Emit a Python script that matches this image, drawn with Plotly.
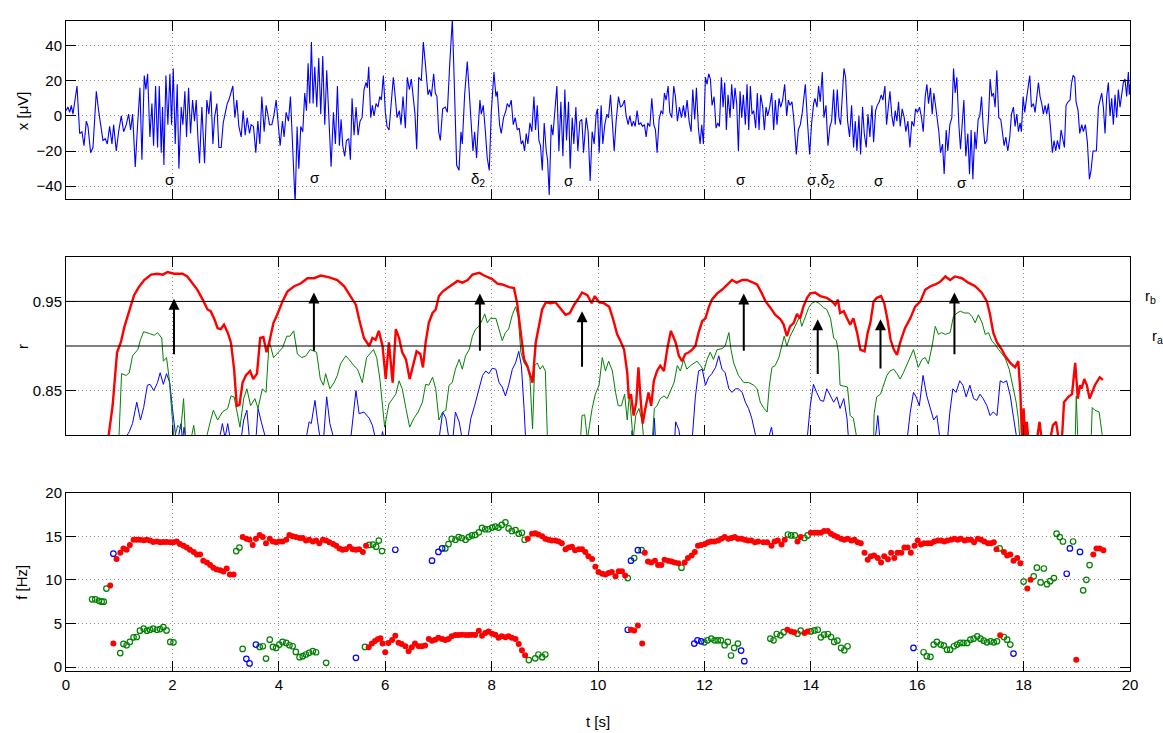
import plotly.graph_objects as go

# ---------------- EEG trace x(t) [uV] ----------------
eeg_t = [
    0.000, 0.038, 0.069, 0.100, 0.131, 0.163, 0.207, 0.257, 0.300, 0.338,
    0.382, 0.413, 0.463, 0.507, 0.570, 0.613, 0.645, 0.695, 0.739, 0.776,
    0.820, 0.864, 0.895, 0.945, 0.989, 1.039, 1.083, 1.133, 1.177, 1.214,
    1.252, 1.302, 1.346, 1.390, 1.427, 1.471, 1.502, 1.534, 1.577, 1.615,
    1.646, 1.684, 1.721, 1.753, 1.790, 1.815, 1.840, 1.878, 1.915, 1.953,
    1.984, 2.016, 2.053, 2.091, 2.122, 2.166, 2.197, 2.235, 2.266, 2.304,
    2.341, 2.379, 2.416, 2.448, 2.479, 2.510, 2.554, 2.604, 2.648, 2.685,
    2.723, 2.761, 2.792, 2.836, 2.873, 2.917, 2.955, 2.992, 3.030, 3.061,
    3.092, 3.136, 3.174, 3.211, 3.249, 3.293, 3.330, 3.368, 3.405, 3.449,
    3.480, 3.524, 3.568, 3.606, 3.643, 3.681, 3.725, 3.762, 3.793, 3.825,
    3.869, 3.906, 3.950, 3.987, 4.025, 4.069, 4.100, 4.138, 4.182, 4.219,
    4.263, 4.307, 4.344, 4.376, 4.413, 4.451, 4.488, 4.520, 4.551, 4.582,
    4.613, 4.645, 4.676, 4.714, 4.751, 4.789, 4.826, 4.864, 4.901, 4.939,
    4.983, 5.027, 5.064, 5.102, 5.139, 5.171, 5.202, 5.239, 5.271, 5.315,
    5.346, 5.377, 5.415, 5.452, 5.490, 5.527, 5.565, 5.602, 5.640, 5.665,
    5.690, 5.728, 5.759, 5.790, 5.828, 5.865, 5.897, 5.928, 5.966, 6.003,
    6.034, 6.072, 6.110, 6.153, 6.185, 6.222, 6.266, 6.297, 6.335, 6.379,
    6.416, 6.454, 6.491, 6.529, 6.560, 6.592, 6.629, 6.679, 6.717, 6.754,
    6.804, 6.836, 6.867, 6.911, 6.942, 6.973, 7.005, 7.036, 7.080, 7.130,
    7.168, 7.212, 7.262, 7.305, 7.343, 7.387, 7.424, 7.449, 7.493, 7.543,
    7.581, 7.618, 7.649, 7.681, 7.718, 7.743, 7.781, 7.806, 7.843, 7.881,
    7.918, 7.956, 7.994, 8.044, 8.081, 8.106, 8.150, 8.181, 8.225, 8.269,
    8.294, 8.332, 8.369, 8.407, 8.444, 8.482, 8.519, 8.557, 8.588, 8.620,
    8.651, 8.682, 8.720, 8.757, 8.795, 8.826, 8.858, 8.889, 8.920, 8.952,
    8.989, 9.027, 9.052, 9.083, 9.121, 9.152, 9.190, 9.227, 9.265, 9.302,
    9.340, 9.377, 9.408, 9.446, 9.477, 9.515, 9.546, 9.584, 9.621, 9.659,
    9.696, 9.728, 9.778, 9.815, 9.853, 9.890, 9.928, 9.965, 9.990, 10.022,
    10.059, 10.090, 10.128, 10.166, 10.197, 10.235, 10.266, 10.304, 10.341, 10.385,
    10.423, 10.460, 10.498, 10.529, 10.567, 10.598, 10.636, 10.667, 10.698, 10.736,
    10.767, 10.805, 10.836, 10.873, 10.905, 10.936, 10.974, 11.011, 11.049, 11.080,
    11.111, 11.149, 11.187, 11.218, 11.249, 11.280, 11.318, 11.349, 11.387, 11.424,
    11.455, 11.493, 11.531, 11.568, 11.606, 11.637, 11.675, 11.712, 11.750, 11.781,
    11.818, 11.850, 11.887, 11.919, 11.950, 11.981, 12.019, 12.050, 12.081, 12.113,
    12.144, 12.182, 12.219, 12.250, 12.282, 12.319, 12.351, 12.382, 12.413, 12.444,
    12.482, 12.513, 12.545, 12.576, 12.607, 12.639, 12.670, 12.701, 12.732, 12.770,
    12.801, 12.833, 12.864, 12.895, 12.927, 12.964, 12.995, 13.027, 13.058, 13.096,
    13.127, 13.158, 13.190, 13.227, 13.265, 13.302, 13.333, 13.365, 13.402, 13.434,
    13.471, 13.509, 13.546, 13.578, 13.609, 13.646, 13.678, 13.728, 13.765, 13.803,
    13.840, 13.865, 13.897, 13.941, 13.978, 14.016, 14.053, 14.078, 14.116, 14.147,
    14.178, 14.216, 14.247, 14.285, 14.322, 14.360, 14.391, 14.429, 14.460, 14.498,
    14.529, 14.560, 14.598, 14.623, 14.654, 14.692, 14.729, 14.767, 14.804, 14.836,
    14.867, 14.905, 14.936, 14.973, 15.005, 15.042, 15.074, 15.111, 15.149, 15.180,
    15.218, 15.249, 15.287, 15.324, 15.355, 15.393, 15.424, 15.455, 15.487, 15.524,
    15.556, 15.587, 15.618, 15.649, 15.681, 15.718, 15.756, 15.787, 15.825, 15.862,
    15.900, 15.937, 15.969, 16.006, 16.044, 16.081, 16.113, 16.150, 16.182, 16.213,
    16.250, 16.282, 16.313, 16.344, 16.376, 16.407, 16.438, 16.476, 16.507, 16.545,
    16.576, 16.614, 16.651, 16.683, 16.714, 16.745, 16.783, 16.814, 16.845, 16.877,
    16.914, 16.952, 16.983, 17.014, 17.046, 17.083, 17.108, 17.146, 17.177, 17.209,
    17.240, 17.271, 17.309, 17.340, 17.371, 17.402, 17.434, 17.465, 17.496, 17.534,
    17.571, 17.603, 17.634, 17.665, 17.703, 17.740, 17.772, 17.809, 17.840, 17.872,
    17.903, 17.934, 17.959, 17.991, 18.022, 18.060, 18.091, 18.116, 18.147, 18.185,
    18.216, 18.247, 18.279, 18.310, 18.341, 18.372, 18.404, 18.435, 18.466, 18.504,
    18.541, 18.573, 18.604, 18.635, 18.673, 18.704, 18.736, 18.767, 18.798, 18.836,
    18.873, 18.898, 18.930, 18.961, 18.986, 19.024, 19.055, 19.093, 19.124, 19.161,
    19.199, 19.237, 19.268, 19.305, 19.337, 19.368, 19.406, 19.437, 19.468, 19.499,
    19.531, 19.562, 19.593, 19.624, 19.656, 19.687, 19.718, 19.750, 19.781, 19.812,
    19.844, 19.875, 19.906, 19.937, 19.969, 19.987, 20.000,
]
eeg_uv = [
    3, 5, 2, 6, 1, 7, 17, -10, -9, -17,
    -3, -6, -21, -18, 14, 3, -3, -14, -13, -16,
    -6, -16, -5, -20, -9, 0, -9, -5, 1, -8,
    1, -29, -5, 16, -25, 23, 15, 24, -12, 7,
    -17, 17, -18, 17, -21, 5, -28, 23, -5, 24,
    -5, 27, -16, 18, -30, 5, -5, 14, -12, 16,
    -10, 9, -3, 9, -12, -27, 5, -27, 9, 1,
    14, -16, -1, 7, -18, -18, -4, 2, 7, 9,
    13, 17, -1, 9, -6, -12, 3, -11, -1, -10,
    -5, -6, -21, -3, -16, 11, -9, 6, 1, -5,
    -5, 0, 9, -6, -17, -3, -12, 2, -3, 11,
    -16, -50, -6, -30, -6, -9, 13, 3, 30, 7,
    42, 7, 28, 5, 33, 1, 34, -5, 26, 3,
    -29, 2, -16, 17, -17, -2, -17, -23, -14, -13,
    -25, 10, -11, 5, -11, -3, -1, 15, 19, 16,
    28, -1, 6, 0, 7, 5, 11, 9, 23, 2,
    -6, -8, 7, 22, 12, -1, 3, -5, 11, -7,
    22, 15, 21, 11, 1, -19, 22, 20, 42, 30,
    12, 15, 11, 24, 13, 11, -9, -14, 4, 5,
    2, 29, 55, 12, -28, -31, -9, -16, 12, 31,
    10, -3, -20, -9, -24, -9, 9, 1, 6, -8,
    -24, -31, 2, 25, 11, 14, -5, -10, -1, 3,
    7, 5, 9, -5, -1, -8, -7, -16, -14, -20,
    -10, -16, -4, -9, 11, -8, 6, -14, -17, -31,
    -4, -20, -25, -45, -5, -11, 1, 17, -20, 8,
    -23, 15, -14, 8, -30, -1, -16, 5, -20, -3,
    -2, -21, -1, -9, -37, -9, -16, 1, 4, -21,
    6, -16, -5, 1, -1, 12, -2, -20, -3, 11,
    5, 6, 9, 0, -5, 0, -6, -3, -6, 3,
    -5, -4, -6, -5, -12, -4, -6, 10, -5, -8,
    -21, -2, 3, 1, 13, 9, 17, 2, -1, 17,
    11, -3, 5, -1, 6, -1, 9, -3, -9, 15,
    -2, 16, -7, -16, -5, -16, 22, 18, 24, 21,
    6, 11, -7, -4, -6, 22, 5, 19, -8, 12,
    -1, 18, 4, 16, 7, -20, 14, -1, 12, -5,
    18, -8, 17, 1, 3, -7, 13, -8, 12, 5,
    -8, 5, 0, 5, 13, -8, 9, -5, 10, 5,
    9, 18, 0, 9, 6, 8, -1, -22, -8, -5,
    2, 11, 18, -5, -22, -4, 7, 10, 5, 17,
    8, 25, -1, 6, -17, -6, -3, 15, -5, 15,
    -1, -5, 12, 27, 22, -3, -12, 6, -18, -3,
    -20, 0, -22, 5, -10, -18, 1, -12, 6, -15,
    3, 6, 8, 12, 9, 17, -5, 6, 14, 0,
    -6, 3, -3, 8, -6, 4, -1, -9, -3, -18,
    -3, -6, 4, 2, 5, -1, -9, 11, 18, 7,
    16, 1, 13, 6, -1, -9, -21, -16, -33, -8,
    -20, -5, -1, 27, 13, 22, -5, -19, -5, 9,
    -23, -10, -33, -8, -36, -9, -19, -2, 0, 11,
    -6, -16, -14, -1, 21, 11, 13, 5, 26, -1,
    -2, -11, -17, -12, -20, -12, 1, 5, -6, 1,
    -9, -4, -9, 11, 2, 11, 18, 23, 5, 7,
    2, 11, 19, 11, 7, 1, 6, 1, 7, -6,
    -21, -14, -20, -14, -19, -8, -13, -18, 6, 8,
    9, 18, 23, 22, 8, 3, -10, -5, -9, -5,
    -15, -36, -31, -20, -20, -20, 5, 9, 13, 5,
    -10, 11, 19, 0, 10, -5, 12, -1, 15, 5,
    12, 19, 21, 11, 25, 12, 18,
]

# Event labels written under the EEG trace
band_t = [1.96, 4.68, 7.74, 9.45, 12.68, 14.20, 15.29, 16.85]
band_uv = [-36, -35, -36, -37, -36, -37, -36.5, -38]
band_text = ["σ", "σ", "δ<sub>2</sub>", "σ", "σ", "σ,δ<sub>2</sub>", "σ", "σ"]

# ---------------- correlation r(t) ----------------
r_red_t = [
    0.78, 0.876, 0.96, 1.03, 1.10, 1.19, 1.28, 1.38, 1.47, 1.60,
    1.72, 1.82, 1.91, 2.03, 2.19, 2.28, 2.38, 2.47, 2.57, 2.66,
    2.72, 2.79, 2.85, 2.91, 2.97, 3.04, 3.10, 3.16, 3.21, 3.26,
    3.32, 3.38, 3.46, 3.52, 3.59, 3.65, 3.71, 3.77, 3.82, 3.90,
    3.97, 4.07, 4.16, 4.29, 4.41, 4.54, 4.66, 4.79, 4.95, 5.10,
    5.23, 5.35, 5.45, 5.51, 5.60, 5.70, 5.76, 5.82, 5.88, 5.95,
    6.01, 6.07, 6.14, 6.20, 6.26, 6.32, 6.39, 6.46, 6.54, 6.59,
    6.66, 6.71, 6.76, 6.82, 6.89, 6.95, 7.01, 7.08, 7.17, 7.26,
    7.36, 7.45, 7.55, 7.64, 7.77, 7.86, 8.01, 8.11, 8.20, 8.33,
    8.42, 8.48, 8.55, 8.61, 8.67, 8.77, 8.83, 8.89, 8.95, 9.02,
    9.11, 9.20, 9.30, 9.39, 9.47, 9.55, 9.64, 9.70, 9.80, 9.88,
    9.94, 10.02, 10.11, 10.21, 10.28, 10.36, 10.42, 10.49, 10.55, 10.58,
    10.62, 10.67, 10.72, 10.76, 10.80, 10.84, 10.89, 10.95, 11.00, 11.05,
    11.11, 11.17, 11.24, 11.30, 11.37, 11.46, 11.52, 11.58, 11.64, 11.71,
    11.77, 11.83, 11.89, 11.96, 12.02, 12.08, 12.14, 12.24, 12.33, 12.43,
    12.52, 12.61, 12.71, 12.80, 12.89, 12.99, 13.08, 13.15, 13.24, 13.33,
    13.43, 13.49, 13.55, 13.61, 13.68, 13.74, 13.80, 13.86, 13.93, 13.99,
    14.08, 14.18, 14.30, 14.40, 14.46, 14.51, 14.55, 14.62, 14.68, 14.74,
    14.80, 14.87, 14.93, 15.01, 15.07, 15.12, 15.18, 15.24, 15.32, 15.38,
    15.44, 15.50, 15.56, 15.62, 15.68, 15.77, 15.87, 15.96, 16.06, 16.15,
    16.25, 16.34, 16.43, 16.53, 16.62, 16.71, 16.84, 16.96, 17.09, 17.21,
    17.31, 17.37, 17.43, 17.50, 17.59, 17.65, 17.75, 17.84, 17.90, 17.94,
    17.97, 18.00, 18.03, 18.06, 18.09, 18.25, 18.30, 18.34, 18.50, 18.55,
    18.61, 18.66, 18.72, 18.76, 18.84, 18.91, 18.97, 19.02, 19.06, 19.09,
    19.14, 19.19, 19.24, 19.28, 19.34, 19.43, 19.49,
]
r_red = [
    0.79, 0.833, 0.893, 0.904, 0.922, 0.941, 0.957, 0.967, 0.974, 0.980,
    0.981, 0.980, 0.983, 0.981, 0.981, 0.978, 0.970, 0.963, 0.952, 0.941,
    0.939, 0.930, 0.920, 0.919, 0.924, 0.915, 0.904, 0.874, 0.833, 0.834,
    0.859, 0.867, 0.872, 0.863, 0.869, 0.909, 0.910, 0.893, 0.904, 0.926,
    0.935, 0.950, 0.961, 0.967, 0.970, 0.976, 0.976, 0.979, 0.977, 0.974,
    0.967, 0.956, 0.946, 0.930, 0.909, 0.900, 0.909, 0.907, 0.917, 0.900,
    0.863, 0.904, 0.859, 0.919, 0.909, 0.893, 0.885, 0.863, 0.881, 0.894,
    0.891, 0.876, 0.904, 0.926, 0.937, 0.941, 0.956, 0.961, 0.965, 0.969,
    0.973, 0.971, 0.974, 0.980, 0.982, 0.979, 0.975, 0.970, 0.969, 0.966,
    0.965, 0.948, 0.915, 0.885, 0.878, 0.859, 0.904, 0.924, 0.941, 0.949,
    0.948, 0.949, 0.941, 0.935, 0.937, 0.946, 0.954, 0.960, 0.957, 0.948,
    0.956, 0.949, 0.948, 0.944, 0.931, 0.913, 0.906, 0.896, 0.870, 0.841,
    0.846, 0.822, 0.837, 0.876, 0.841, 0.813, 0.830, 0.848, 0.833, 0.861,
    0.872, 0.878, 0.872, 0.896, 0.917, 0.904, 0.889, 0.883, 0.891, 0.893,
    0.896, 0.900, 0.915, 0.928, 0.931, 0.943, 0.952, 0.959, 0.963, 0.969,
    0.974, 0.971, 0.974, 0.974, 0.972, 0.969, 0.959, 0.950, 0.943, 0.935,
    0.930, 0.924, 0.911, 0.922, 0.926, 0.936, 0.931, 0.944, 0.954, 0.959,
    0.960, 0.956, 0.954, 0.950, 0.946, 0.952, 0.937, 0.939, 0.931, 0.924,
    0.931, 0.915, 0.896, 0.894, 0.915, 0.926, 0.950, 0.954, 0.956, 0.948,
    0.930, 0.907, 0.896, 0.890, 0.904, 0.920, 0.931, 0.944, 0.950, 0.963,
    0.967, 0.969, 0.972, 0.978, 0.974, 0.978, 0.976, 0.971, 0.967, 0.960,
    0.950, 0.935, 0.915, 0.904, 0.896, 0.889, 0.881, 0.876, 0.883, 0.848,
    0.795, 0.830, 0.795, 0.815, 0.795, 0.795, 0.815, 0.795, 0.795, 0.811,
    0.815, 0.795, 0.795, 0.837, 0.843, 0.846, 0.881, 0.841, 0.856, 0.852,
    0.863, 0.856, 0.841, 0.848, 0.856, 0.865, 0.862,
]

r_green_t = [
    0.99, 1.045, 1.13, 1.19, 1.25, 1.35, 1.40, 1.46, 1.57, 1.66,
    1.72, 1.80, 1.83, 1.89, 1.94, 2.00, 2.03, 2.10, 2.16, 2.21,
    2.25, 2.35, 2.40, 2.44, 2.63, 2.72, 2.77, 2.85, 2.94, 3.04,
    3.10, 3.16, 3.22, 3.27, 3.34, 3.40, 3.47, 3.55, 3.61, 3.69,
    3.76, 3.82, 3.90, 3.99, 4.07, 4.15, 4.21, 4.28, 4.35, 4.43,
    4.51, 4.59, 4.66, 4.71, 4.78, 4.84, 4.88, 4.96, 5.04, 5.10,
    5.16, 5.26, 5.32, 5.41, 5.48, 5.57, 5.65, 5.73, 5.78, 5.84,
    5.90, 5.95, 5.99, 6.07, 6.14, 6.20, 6.26, 6.32, 6.39, 6.46,
    6.54, 6.62, 6.70, 6.76, 6.82, 6.89, 6.95, 7.01, 7.08, 7.14,
    7.20, 7.26, 7.32, 7.39, 7.45, 7.51, 7.58, 7.64, 7.70, 7.76,
    7.83, 7.87, 7.92, 7.98, 8.08, 8.14, 8.20, 8.26, 8.32, 8.39,
    8.45, 8.50, 8.55, 8.61, 8.67, 8.72, 8.77, 8.81, 8.86, 8.91,
    8.96, 9.01, 9.05, 9.67, 9.70, 9.75, 9.80, 9.84, 9.89, 9.95,
    10.02, 10.08, 10.14, 10.20, 10.27, 10.33, 10.38, 10.44, 10.50, 10.55,
    10.59, 10.66, 10.71, 10.77, 10.83, 10.86, 11.02, 11.06, 11.11, 11.17,
    11.24, 11.30, 11.36, 11.43, 11.49, 11.55, 11.61, 11.67, 11.74, 11.80,
    11.86, 11.93, 11.99, 12.05, 12.11, 12.17, 12.24, 12.33, 12.39, 12.46,
    12.50, 12.55, 12.64, 12.74, 12.83, 12.93, 12.99, 13.05, 13.12, 13.18,
    13.22, 13.27, 13.33, 13.40, 13.46, 13.50, 13.55, 13.61, 13.68, 13.74,
    13.79, 13.83, 13.90, 13.96, 14.02, 14.09, 14.15, 14.24, 14.30, 14.37,
    14.43, 14.48, 14.52, 14.55, 14.62, 14.69, 14.74, 14.80, 14.87, 15.18,
    15.19, 15.24, 15.31, 15.37, 15.43, 15.49, 15.56, 15.62, 15.68, 15.74,
    15.81, 15.87, 15.93, 15.98, 16.02, 16.09, 16.15, 16.21, 16.28, 16.34,
    16.40, 16.46, 16.53, 16.62, 16.68, 16.75, 16.81, 16.89, 16.97, 17.03,
    17.09, 17.15, 17.22, 17.28, 17.34, 17.40, 17.46, 17.53, 17.59, 17.65,
    17.73, 17.81, 17.86, 17.90, 17.93, 18.97, 18.99, 19.02, 19.27, 19.29,
    19.34, 19.42, 19.49,
]
r_green = [
    0.79, 0.869, 0.867, 0.870, 0.889, 0.896, 0.907, 0.916, 0.914, 0.912,
    0.915, 0.909, 0.883, 0.887, 0.863, 0.813, 0.795, 0.811, 0.807, 0.841,
    0.795, 0.795, 0.811, 0.795, 0.795, 0.817, 0.828, 0.817, 0.826, 0.830,
    0.844, 0.843, 0.822, 0.809, 0.841, 0.852, 0.833, 0.841, 0.830, 0.852,
    0.848, 0.906, 0.887, 0.893, 0.898, 0.911, 0.911, 0.917, 0.891, 0.887,
    0.889, 0.896, 0.894, 0.893, 0.863, 0.856, 0.869, 0.852, 0.859, 0.867,
    0.880, 0.889, 0.885, 0.878, 0.874, 0.859, 0.887, 0.893, 0.896, 0.887,
    0.863, 0.833, 0.809, 0.835, 0.841, 0.846, 0.861, 0.852, 0.830, 0.809,
    0.819, 0.826, 0.837, 0.857, 0.856, 0.865, 0.852, 0.817, 0.826, 0.828,
    0.856, 0.859, 0.874, 0.885, 0.874, 0.889, 0.896, 0.911, 0.919, 0.922,
    0.930, 0.936, 0.926, 0.931, 0.931, 0.917, 0.906, 0.915, 0.919, 0.935,
    0.944, 0.933, 0.893, 0.881, 0.876, 0.865, 0.807, 0.878, 0.881, 0.874,
    0.878, 0.872, 0.795, 0.795, 0.822, 0.823, 0.795, 0.811, 0.830, 0.846,
    0.856, 0.887, 0.872, 0.883, 0.872, 0.848, 0.833, 0.833, 0.846, 0.817,
    0.846, 0.795, 0.822, 0.830, 0.815, 0.795, 0.795, 0.830, 0.833, 0.841,
    0.844, 0.841, 0.850, 0.859, 0.878, 0.872, 0.885, 0.874, 0.878, 0.881,
    0.883, 0.878, 0.872, 0.885, 0.893, 0.885, 0.896, 0.897, 0.900, 0.915,
    0.896, 0.881, 0.867, 0.859, 0.859, 0.856, 0.852, 0.837, 0.830, 0.826,
    0.855, 0.876, 0.878, 0.887, 0.900, 0.911, 0.900, 0.911, 0.919, 0.926,
    0.933, 0.922, 0.933, 0.943, 0.948, 0.950, 0.948, 0.943, 0.941, 0.931,
    0.909, 0.906, 0.893, 0.856, 0.855, 0.854, 0.822, 0.819, 0.795, 0.795,
    0.824, 0.843, 0.846, 0.856, 0.867, 0.872, 0.874, 0.869, 0.863, 0.870,
    0.880, 0.887, 0.896, 0.885, 0.876, 0.885, 0.887, 0.880, 0.900, 0.922,
    0.913, 0.915, 0.913, 0.915, 0.933, 0.937, 0.939, 0.937, 0.937, 0.933,
    0.926, 0.935, 0.926, 0.913, 0.915, 0.906, 0.902, 0.896, 0.891, 0.887,
    0.874, 0.852, 0.837, 0.819, 0.795, 0.795, 0.844, 0.795, 0.795, 0.831,
    0.828, 0.826, 0.795,
]

r_blue_t = [
    1.10, 1.19, 1.25, 1.33, 1.40, 1.46, 1.53, 1.58, 1.65, 1.72,
    1.77, 1.83, 1.89, 1.95, 2.00, 2.07, 2.12, 2.16, 2.19, 2.22,
    2.25, 2.88, 2.94, 2.99, 3.04, 3.09, 3.29, 3.34, 3.40, 3.45,
    3.57, 3.61, 3.67, 3.76, 4.51, 4.57, 4.61, 4.68, 4.73, 4.78,
    4.84, 4.90, 4.96, 5.04, 5.35, 5.45, 5.51, 5.60, 5.70, 5.76,
    5.82, 5.92, 5.95, 5.98, 7.01, 7.08, 7.14, 7.20, 7.27, 7.32,
    7.39, 7.45, 7.55, 7.61, 7.68, 7.76, 7.83, 7.89, 7.95, 8.01,
    8.08, 8.14, 8.20, 8.26, 8.32, 8.39, 8.45, 8.51, 8.56, 8.61,
    8.64, 10.63, 10.64, 10.66, 11.04, 11.06, 11.08, 11.44, 11.46, 11.52,
    11.55, 11.77, 11.83, 11.89, 11.96, 12.02, 12.08, 12.14, 12.21, 12.27,
    12.33, 12.39, 12.46, 12.52, 12.58, 12.64, 12.71, 12.77, 12.83, 12.89,
    12.98, 13.20, 13.26, 13.30, 13.93, 13.99, 14.05, 14.11, 14.18, 14.24,
    14.30, 14.37, 14.43, 14.49, 14.55, 14.62, 14.68, 14.71, 15.21, 15.26,
    15.30, 15.81, 15.87, 15.93, 15.98, 16.04, 16.11, 16.18, 16.25, 16.31,
    16.37, 16.43, 16.57, 16.61, 16.67, 16.73, 16.80, 16.86, 16.92, 16.99,
    17.06, 17.12, 17.18, 17.24, 17.31, 17.37, 17.43, 17.50, 17.56, 17.62,
    17.68, 17.75, 17.81, 17.87, 17.90,
]
r_blue = [
    0.795, 0.804, 0.813, 0.837, 0.817, 0.831, 0.856, 0.857, 0.850, 0.859,
    0.870, 0.857, 0.869, 0.859, 0.830, 0.795, 0.800, 0.813, 0.795, 0.809,
    0.795, 0.795, 0.813, 0.797, 0.813, 0.795, 0.795, 0.817, 0.828, 0.795,
    0.795, 0.830, 0.815, 0.795, 0.795, 0.815, 0.813, 0.839, 0.815, 0.795,
    0.795, 0.843, 0.813, 0.795, 0.795, 0.850, 0.824, 0.826, 0.819, 0.811,
    0.795, 0.795, 0.804, 0.795, 0.795, 0.826, 0.819, 0.795, 0.795, 0.826,
    0.815, 0.795, 0.795, 0.819, 0.833, 0.852, 0.867, 0.872, 0.869, 0.875,
    0.874, 0.859, 0.854, 0.844, 0.856, 0.874, 0.881, 0.894, 0.878, 0.830,
    0.795, 0.795, 0.805, 0.795, 0.795, 0.819, 0.795, 0.795, 0.815, 0.806,
    0.795, 0.795, 0.843, 0.872, 0.874, 0.856, 0.865, 0.869, 0.876, 0.889,
    0.874, 0.870, 0.852, 0.848, 0.852, 0.852, 0.848, 0.837, 0.830, 0.819,
    0.795, 0.795, 0.809, 0.795, 0.795, 0.833, 0.857, 0.848, 0.839, 0.838,
    0.852, 0.844, 0.837, 0.843, 0.830, 0.841, 0.819, 0.795, 0.795, 0.822,
    0.795, 0.795, 0.826, 0.848, 0.843, 0.833, 0.867, 0.844, 0.830, 0.817,
    0.822, 0.795, 0.795, 0.824, 0.852, 0.848, 0.861, 0.856, 0.843, 0.856,
    0.841, 0.839, 0.846, 0.841, 0.833, 0.822, 0.826, 0.822, 0.861, 0.859,
    0.861, 0.844, 0.820, 0.797, 0.795,
]

# thresholds r_a, r_b and detected events (arrow from / to)
r_a = 0.90
r_b = 0.95
arrow_t = [2.03, 4.66, 7.78, 9.70, 12.74, 14.13, 15.31, 16.70]
arrow_from = [0.889, 0.893, 0.893, 0.875, 0.893, 0.867, 0.873, 0.889]
arrow_to = [0.953, 0.960, 0.959, 0.939, 0.959, 0.930, 0.930, 0.960]

# ---------------- frequency estimates f(t) [Hz] ----------------
f_red_t = [
    0.83, 0.89, 0.95, 1.02, 1.08, 1.14, 1.20, 1.27, 1.33, 1.39,
    1.46, 1.52, 1.58, 1.64, 1.71, 1.77, 1.83, 1.89, 1.96, 2.02,
    2.08, 2.14, 2.21, 2.27, 2.33, 2.40, 2.46, 2.52, 2.58, 2.65,
    2.71, 2.77, 2.83, 2.90, 2.96, 3.02, 3.08, 3.15, 3.32, 3.39,
    3.45, 3.51, 3.57, 3.64, 3.70, 3.76, 3.83, 3.89, 3.95, 4.01,
    4.07, 4.14, 4.20, 4.26, 4.32, 4.39, 4.45, 4.51, 4.57, 4.64,
    4.70, 4.76, 4.83, 4.89, 4.95, 5.02, 5.08, 5.14, 5.20, 5.26,
    5.33, 5.39, 5.45, 5.51, 5.58, 5.64, 5.69, 5.75, 5.81, 5.86,
    5.91, 5.95, 6.00, 6.06, 6.13, 6.19, 6.25, 6.31, 6.38, 6.44,
    6.50, 6.56, 6.63, 6.69, 6.75, 6.82, 6.88, 6.94, 7.00, 7.07,
    7.13, 7.19, 7.25, 7.32, 7.38, 7.44, 7.51, 7.57, 7.63, 7.69,
    7.76, 7.82, 7.88, 7.94, 8.01, 8.07, 8.13, 8.19, 8.26, 8.32,
    8.38, 8.45, 8.51, 8.57, 8.63, 8.68, 8.76, 8.82, 8.88, 8.95,
    9.01, 9.07, 9.13, 9.20, 9.26, 9.32, 9.39, 9.45, 9.51, 9.57,
    9.64, 9.70, 9.76, 9.82, 9.89, 9.95, 10.01, 10.08, 10.14, 10.20,
    10.26, 10.33, 10.39, 10.45, 10.51, 10.62, 10.68, 10.75, 10.83, 10.88,
    10.94, 11.00, 11.07, 11.13, 11.19, 11.25, 11.32, 11.38, 11.44, 11.51,
    11.63, 11.69, 11.76, 11.82, 11.88, 11.94, 12.01, 12.07, 12.13, 12.19,
    12.26, 12.32, 12.38, 12.45, 12.51, 12.57, 12.63, 12.70, 12.76, 12.82,
    12.88, 12.95, 13.01, 13.11, 13.18, 13.26, 13.32, 13.38, 13.45, 13.51,
    13.75, 13.81, 14.00, 14.07, 14.13, 14.19, 14.25, 14.32, 14.38, 14.44,
    14.50, 14.57, 14.63, 14.69, 14.76, 14.82, 14.88, 14.94, 15.01, 15.07,
    15.13, 15.19, 15.26, 15.32, 15.38, 15.45, 15.51, 15.57, 15.63, 15.70,
    15.76, 15.82, 15.88, 15.95, 16.01, 16.07, 16.13, 16.20, 16.26, 16.32,
    16.39, 16.45, 16.51, 16.57, 16.64, 16.70, 16.76, 16.82, 16.89, 16.95,
    17.01, 17.07, 17.14, 17.20, 17.26, 17.33, 17.39, 17.44, 17.49, 17.63,
    17.69, 17.75, 17.81, 17.88, 17.94, 18.07, 18.13, 19.31, 19.37, 19.43,
    19.50, 13.56, 13.63, 13.69, 13.88, 13.94, 17.56, 18.99,
]
f_red = [
    9.36, 2.69, 12.4, 13.1, 13.6, 13.45, 14.0, 14.6, 14.6, 14.6,
    14.55, 14.6, 14.5, 14.35, 14.4, 14.3, 14.35, 14.35, 14.3, 14.3,
    14.4, 14.1, 13.9, 13.7, 13.45, 13.2, 12.9, 12.9, 12.2, 12.0,
    11.7, 11.4, 11.2, 11.1, 10.95, 11.3, 10.6, 10.6, 14.9, 14.7,
    14.6, 14.0, 14.7, 15.15, 14.9, 14.2, 14.7, 14.4, 14.3, 14.4,
    14.4, 14.6, 15.15, 15.0, 14.9, 14.8, 14.8, 14.5, 14.6, 14.4,
    14.5, 14.2, 14.6, 14.5, 14.3, 14.1, 13.9, 13.6, 13.45, 13.5,
    13.8, 13.5, 13.45, 13.5, 13.2, 13.9, 2.27, 2.7, 3.0, 3.2,
    3.3, 2.7, 1.7, 2.75, 3.1, 3.6, 2.8, 2.65, 2.39, 1.82,
    2.27, 2.69, 2.39, 2.39, 2.46, 3.22, 3.03, 3.14, 3.37, 3.22,
    3.11, 3.22, 3.52, 3.67, 3.67, 3.71, 3.67, 3.67, 3.71, 3.67,
    4.17, 3.60, 3.90, 4.09, 3.83, 3.71, 3.37, 3.52, 3.41, 3.52,
    3.37, 3.22, 2.65, 1.93, 1.36, 14.7, 15.3, 15.35, 15.2, 15.0,
    14.7, 14.6, 14.5, 14.5, 14.4, 14.2, 13.5, 13.7, 13.8, 13.4,
    13.5, 13.5, 13.2, 12.7, 12.4, 11.5, 10.9, 10.7, 10.6, 10.8,
    10.9, 10.4, 11.0, 11.0, 10.5, 4.28, 4.2, 4.77, 2.69, 13.1,
    12.1, 12.0, 12.2, 11.7, 11.7, 12.3, 12.2, 12.1, 12.0, 11.9,
    12.0, 12.5, 12.8, 13.2, 13.9, 14.0, 14.1, 14.3, 14.4, 14.4,
    14.5, 14.7, 14.9, 14.7, 14.8, 14.9, 14.7, 14.7, 14.6, 14.5,
    14.5, 14.3, 14.4, 14.3, 14.3, 13.9, 14.4, 14.5, 14.05, 14.6,
    14.4, 14.9, 15.4, 15.4, 15.4, 15.4, 15.6, 15.6, 15.3, 15.1,
    14.9, 14.7, 14.6, 14.7, 14.5, 14.6, 14.3, 14.2, 13.1, 12.3,
    12.7, 12.8, 12.5, 12.0, 12.7, 12.35, 13.1, 12.5, 13.1, 13.1,
    13.7, 13.7, 13.1, 13.9, 14.5, 14.05, 14.2, 14.2, 14.2, 14.4,
    14.5, 14.5, 14.4, 14.5, 14.6, 14.7, 14.6, 14.7, 14.5, 14.6,
    14.6, 14.3, 14.7, 14.6, 14.4, 14.2, 14.2, 14.3, 13.5, 13.2,
    12.8, 12.9, 12.2, 12.5, 11.9, 9.0, 10.0, 12.9, 13.6, 13.6,
    13.4, 4.28, 4.09, 3.98, 3.9, 4.09, 3.64, 0.83,
]

f_green_t = [
    0.49, 0.55, 0.62, 0.67, 0.71, 0.76, 1.02, 1.08, 1.14, 1.20,
    1.27, 1.33, 1.39, 1.46, 1.52, 1.58, 1.64, 1.71, 1.77, 1.83,
    1.89, 1.96, 2.02, 3.20, 3.26, 3.32, 3.64, 3.70, 3.76, 3.83,
    3.89, 3.95, 4.01, 4.07, 4.14, 4.20, 4.26, 4.32, 4.39, 4.45,
    4.51, 4.57, 4.64, 4.70, 4.89, 5.62, 5.70, 5.77, 5.83, 5.88,
    5.94, 7.13, 7.19, 7.25, 7.32, 7.38, 7.44, 7.51, 7.57, 7.63,
    7.69, 7.76, 7.82, 7.88, 7.94, 8.01, 8.07, 8.13, 8.19, 8.26,
    8.32, 8.38, 8.45, 8.51, 8.57, 8.62, 8.70, 8.82, 8.88, 8.95,
    9.01, 10.56, 10.68, 10.82, 11.57, 12.00, 12.06, 12.13, 12.19, 12.25,
    12.31, 12.38, 12.44, 12.50, 12.56, 12.63, 13.24, 13.30, 13.36, 13.43,
    13.49, 13.75, 13.81, 14.00, 14.07, 14.13, 14.19, 14.25, 14.32, 14.38,
    14.44, 14.50, 14.57, 14.63, 14.69, 13.57, 13.63, 13.70, 13.88, 13.94,
    16.12, 16.18, 16.25, 16.31, 16.37, 16.44, 16.50, 16.56, 16.62, 16.69,
    16.75, 16.81, 16.87, 16.94, 17.00, 17.06, 17.13, 17.19, 17.25, 17.31,
    17.38, 17.44, 17.50, 17.63, 17.69, 17.75, 17.55, 18.00, 18.19, 18.25,
    18.32, 18.38, 18.44, 18.50, 18.57, 18.62, 18.68, 18.74, 18.93, 19.12,
    19.18, 19.24,
]
f_green = [
    7.77, 7.77, 7.6, 7.5, 7.5, 9.0, 1.6, 2.65, 2.5, 2.88,
    3.41, 3.45, 4.17, 4.4, 4.17, 4.28, 4.4, 4.28, 4.36, 4.58,
    4.2, 2.88, 2.84, 13.3, 13.7, 2.08, 2.31, 2.39, 0.98, 3.14,
    2.31, 2.2, 2.58, 2.88, 2.77, 2.5, 2.39, 1.74, 1.14, 1.25,
    1.44, 1.63, 1.82, 1.7, 0.49, 2.31, 14.0, 14.05, 13.8, 14.5,
    13.3, 13.6, 14.1, 14.7, 14.6, 14.9, 14.8, 14.6, 14.9, 15.1,
    15.15, 15.45, 15.95, 15.8, 15.8, 16.0, 16.1, 16.0, 16.3, 16.6,
    15.9, 15.6, 15.7, 15.3, 15.4, 14.6, 0.80, 1.0, 1.44, 1.14,
    1.44, 10.2, 12.5, 13.4, 11.4, 2.84, 3.07, 3.26, 3.07, 3.07,
    3.07, 2.5, 2.88, 1.33, 2.2, 2.69, 3.26, 3.07, 3.79, 3.64,
    4.0, 3.83, 4.17, 4.09, 4.2, 4.28, 3.41, 3.71, 3.79, 3.45,
    2.88, 3.03, 2.2, 1.93, 2.39, 15.2, 15.1, 15.1, 14.8, 15.1,
    1.7, 1.25, 1.17, 2.58, 2.88, 2.58, 2.46, 2.0, 2.0, 2.39,
    2.58, 2.77, 2.77, 2.77, 3.14, 3.26, 3.52, 3.26, 3.03, 2.84,
    2.95, 2.84, 2.95, 3.45, 3.14, 2.58, 13.6, 9.8, 10.4, 11.4,
    9.7, 11.3, 9.5, 9.85, 10.2, 15.3, 14.9, 14.4, 14.4, 8.8,
    10.0, 11.7,
]

f_blue_t = [
    0.89, 3.39, 3.45, 3.57, 5.45, 6.19, 6.88, 7.00, 7.07, 10.56,
    10.62, 10.75, 11.81, 11.87, 11.94, 12.69, 12.75, 15.93, 17.81, 18.81,
    18.87, 19.06,
]
f_blue = [
    13.0, 0.95, 0.42, 2.58, 1.06, 13.45, 12.2, 13.2, 13.6, 4.28,
    12.2, 13.4, 2.69, 3.07, 2.95, 1.89, 0.68, 2.2, 1.55, 10.7,
    13.6, 13.2,
]

for a, b in [(eeg_t, eeg_uv), (r_red_t, r_red), (r_green_t, r_green),
             (r_blue_t, r_blue), (f_red_t, f_red), (f_green_t, f_green),
             (f_blue_t, f_blue)]:
    assert len(a) == len(b), (len(a), len(b))

# ---------------- figure ----------------
FONT = "Liberation Sans"
RED, GREEN, BLUE = "#ff0000", "#008000", "#0000ff"

fig = go.Figure()

fig.add_trace(go.Scatter(x=eeg_t, y=eeg_uv, mode="lines",
                         line=dict(color=BLUE, width=1.1),
                         xaxis="x", yaxis="y", showlegend=False))

for t, r, col, w in [(r_blue_t, r_blue, BLUE, 1.0),
                     (r_green_t, r_green, GREEN, 1.0),
                     (r_red_t, r_red, RED, 2.4)]:
    fig.add_trace(go.Scatter(x=t, y=r, mode="lines",
                             line=dict(color=col, width=w),
                             xaxis="x2", yaxis="y2", showlegend=False))

fig.add_trace(go.Scatter(x=f_green_t, y=f_green, mode="markers",
                         marker=dict(symbol="circle-open", size=5.5,
                                     color=GREEN, line=dict(width=1.2)),
                         xaxis="x3", yaxis="y3", showlegend=False))
fig.add_trace(go.Scatter(x=f_blue_t, y=f_blue, mode="markers",
                         marker=dict(symbol="circle-open", size=5.5,
                                     color=BLUE, line=dict(width=1.2)),
                         xaxis="x3", yaxis="y3", showlegend=False))
fig.add_trace(go.Scatter(x=f_red_t, y=f_red, mode="markers",
                         marker=dict(symbol="circle", size=6, color=RED),
                         xaxis="x3", yaxis="y3", showlegend=False))

# threshold lines
for level in (r_a, r_b):
    fig.add_shape(type="line", xref="x2 domain", yref="y2",
                  x0=0, x1=1, y0=level, y1=level,
                  line=dict(color="black", width=1))

annotations = []
# event arrows
for t, r0, r1 in zip(arrow_t, arrow_from, arrow_to):
    annotations.append(dict(x=t, y=r1, ax=t, ay=r0, xref="x2", yref="y2",
                            axref="x2", ayref="y2", text="", showarrow=True,
                            arrowhead=2, arrowsize=1.1, arrowwidth=2,
                            arrowcolor="black"))
# event labels
for t, v, s in zip(band_t, band_uv, band_text):
    annotations.append(dict(x=t, y=v, xref="x", yref="y", text=s,
                            showarrow=False,
                            font=dict(family=FONT, size=15, color="black")))
# threshold names
annotations.append(dict(x=1.012, y=0.9553, xref="paper", yref="y2",
                        text="r<sub>b</sub>", showarrow=False, xanchor="left",
                        yanchor="middle", font=dict(family=FONT, size=15, color="black")))
annotations.append(dict(x=1.019, y=0.911, xref="paper", yref="y2",
                        text="r<sub>a</sub>", showarrow=False, xanchor="left",
                        yanchor="middle", font=dict(family=FONT, size=15, color="black")))
# axis titles
title_font = dict(family=FONT, size=15, color="black")
for txt, yy in [("x [μV]", 0.8628), ("r", 0.5), ("f [Hz]", 0.1372)]:
    annotations.append(dict(x=-0.0414, y=yy, xref="paper", yref="paper",
                            text=txt, textangle=-90, showarrow=False,
                            xanchor="center", yanchor="middle", font=title_font))
annotations.append(dict(x=0.5, y=-0.0777, xref="paper", yref="paper",
                        text="t [s]", showarrow=False, xanchor="center",
                        yanchor="middle", font=title_font))

axis_common = dict(showline=True, linecolor="black", linewidth=1,
                   mirror="ticks", ticks="inside", ticklen=10, tickwidth=1,
                   tickcolor="black", showgrid=True, gridcolor="#8c8c8c",
                   griddash="1px,3px", gridwidth=1, zeroline=False,
                   tickfont=dict(family=FONT, size=15, color="black"))
x_common = dict(axis_common, range=[0, 20], tick0=0, dtick=2)

fig.update_layout(
    width=1163, height=733,
    margin=dict(l=66, r=33, t=15, b=62),
    paper_bgcolor="white", plot_bgcolor="white",
    font=dict(family=FONT, size=15, color="black"),
    xaxis=dict(x_common, domain=[0, 1], anchor="y", showticklabels=False),
    yaxis=dict(axis_common, domain=[0.7256, 1.0], anchor="x",
               range=[-47.5, 54], tickvals=[-40, -20, 0, 20, 40]),
    xaxis2=dict(x_common, domain=[0, 1], anchor="y2", showticklabels=False),
    yaxis2=dict(axis_common, domain=[0.3628, 0.6372], anchor="x2",
                range=[0.8, 1.0], tickvals=[0.85, 0.95],
                ticktext=["0.85", "0.95"]),
    xaxis3=dict(x_common, domain=[0, 1], anchor="y3"),
    yaxis3=dict(axis_common, domain=[0, 0.2744], anchor="x3",
                range=[-0.45, 20], tickvals=[0, 5, 10, 15, 20]),
    annotations=annotations,
)

fig.write_html("out.html")
